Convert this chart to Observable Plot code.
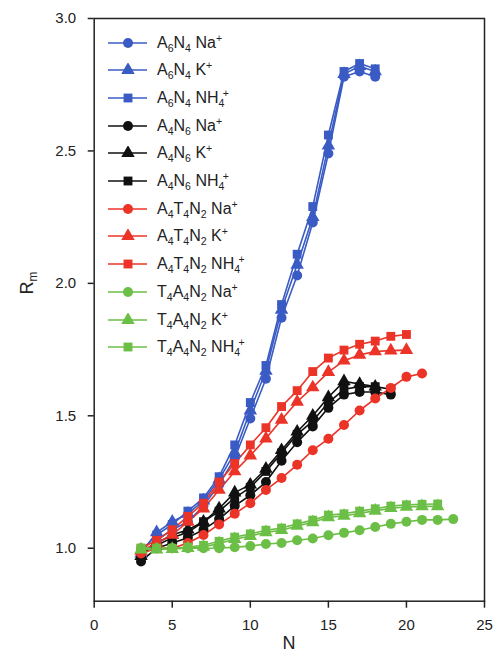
<!DOCTYPE html>
<html><head><meta charset="utf-8">
<script src="https://cdn.jsdelivr.net/npm/d3@7"></script>
<script src="https://cdn.jsdelivr.net/npm/@observablehq/plot@0.6"></script>
<style>
body{margin:0;background:#fff;font-family:"Liberation Sans",Arial,sans-serif;}
#wrap{position:relative;width:495px;height:652px;overflow:hidden;}
#legend{position:absolute;left:108px;top:28.8px;}
.row{height:27.7px;display:flex;align-items:center;font-size:16px;color:#222;white-space:nowrap;}
.row svg{margin-right:10px;flex:none;}
sub{font-size:0.66em;vertical-align:-0.35em;line-height:0;}
sup{font-size:0.66em;vertical-align:0.55em;line-height:0;}
.ylab{position:absolute;left:27px;top:283px;transform:translate(-50%,-50%) rotate(-90deg);font-size:18px;color:#222;white-space:nowrap;}
.xlab{position:absolute;left:289px;top:643px;transform:translate(-50%,-50%);font-size:18px;color:#222;}
</style></head><body><div id="wrap"></div>
<script>
// First N of every series
const N_START = 3;

// A6N4
const A6N4_Na  = [0.97,1.03,1.07,1.10,1.16,1.24,1.34,1.49,1.64,1.87,2.03,2.23,2.49,2.78,2.80,2.78];
const A6N4_K   = [0.98,1.06,1.10,1.13,1.18,1.26,1.36,1.52,1.67,1.90,2.07,2.25,2.52,2.79,2.82,2.80];
const A6N4_NH4 = [0.99,1.05,1.09,1.14,1.19,1.27,1.39,1.55,1.69,1.92,2.11,2.29,2.56,2.80,2.83,2.81];
// A4N6
const A4N6_Na  = [0.95,1.00,1.02,1.04,1.07,1.11,1.16,1.20,1.25,1.33,1.40,1.46,1.53,1.58,1.59,1.59,1.58];
const A4N6_K   = [0.97,1.02,1.05,1.07,1.10,1.15,1.21,1.24,1.30,1.37,1.44,1.50,1.57,1.63,1.62,1.61];
const A4N6_NH4 = [0.98,1.01,1.04,1.06,1.10,1.14,1.19,1.23,1.29,1.36,1.43,1.48,1.55,1.60,1.61,1.61,1.60];
// A4T4N2
const A4T4N2_Na  = [0.98,1.00,1.00,1.02,1.05,1.09,1.13,1.17,1.22,1.265,1.315,1.37,1.413,1.465,1.52,1.565,1.605,1.647,1.66];
const A4T4N2_K   = [0.99,1.02,1.05,1.10,1.15,1.22,1.29,1.35,1.414,1.485,1.553,1.607,1.665,1.708,1.73,1.743,1.746,1.748];
const A4T4N2_NH4 = [1.00,1.03,1.07,1.12,1.17,1.25,1.32,1.39,1.455,1.535,1.595,1.667,1.718,1.748,1.77,1.782,1.80,1.807];
// T4A4N2
const T4A4N2_Na  = [1.00,1.00,1.00,1.00,1.00,1.00,1.004,1.008,1.016,1.02,1.03,1.037,1.049,1.058,1.068,1.08,1.092,1.10,1.107,1.107,1.11];
const T4A4N2_K   = [0.995,0.995,0.997,1.00,1.005,1.018,1.034,1.046,1.06,1.068,1.084,1.098,1.117,1.122,1.132,1.141,1.151,1.156,1.158,1.158];
const T4A4N2_NH4 = [1.00,1.00,1.00,1.004,1.011,1.026,1.042,1.054,1.068,1.076,1.092,1.106,1.125,1.13,1.14,1.149,1.159,1.164,1.166,1.167];

const families = ["A6N4","A4N6","A4T4N2","T4A4N2"];
const familyLabels = ["A<sub>6</sub>N<sub>4</sub>","A<sub>4</sub>N<sub>6</sub>","A<sub>4</sub>T<sub>4</sub>N<sub>2</sub>","T<sub>4</sub>A<sub>4</sub>N<sub>2</sub>"];
const familyColors = ["#3a5bc4","#111111","#ec3327","#6cbf46"];
const ions = ["Na","K","NH4"];
const ionLabels = ["Na<sup>+</sup>","K<sup>+</sup>","NH<sub>4</sub><sup style='margin-left:-0.15em'>+</sup>"];
const ionSymbols = ["circle","triangle","square"];

const xTicks = [0,5,10,15,20,25];
const yTicks = [1.0,1.5,2.0,2.5,3.0];

const seriesValues = {
  A6N4:{Na:A6N4_Na,K:A6N4_K,NH4:A6N4_NH4},
  A4N6:{Na:A4N6_Na,K:A4N6_K,NH4:A4N6_NH4},
  A4T4N2:{Na:A4T4N2_Na,K:A4T4N2_K,NH4:A4T4N2_NH4},
  T4A4N2:{Na:T4A4N2_Na,K:T4A4N2_K,NH4:T4A4N2_NH4}
};

const data = [];
for (const f of families) for (const ion of ions) {
  seriesValues[f][ion].forEach((v,i)=>data.push({N:N_START+i,R:v,family:f,ion,series:f+"_"+ion}));
}

const R = 5;
const chart = Plot.plot({
  width:495, height:652,
  marginLeft:93.7, marginRight:11, marginTop:18, marginBottom:51.3,
  style:{fontFamily:"Liberation Sans, Arial, sans-serif", fontSize:"15px", color:"#222", background:"#fff"},
  x:{domain:[0,25], ticks:xTicks, tickFormat:d=>String(d), label:null},
  y:{domain:[0.8,3.0], ticks:yTicks, tickFormat:d3.format(".1f"), label:null},
  color:{domain:families, range:familyColors},
  symbol:{domain:ions, range:ionSymbols},
  marks:[
    Plot.line(data,{x:"N",y:"R",z:"series",stroke:"family",strokeWidth:1.6}),
    Plot.dot(data,{x:"N",y:"R",fill:"family",symbol:"ion",r:R,stroke:"none"}),
    Plot.axisX({ticks:xTicks,tickSize:7,tickPadding:11,strokeWidth:1.5,tickFormat:d=>String(d),label:null}),
    Plot.axisY({ticks:yTicks,tickSize:6,tickPadding:12,strokeWidth:1.5,tickFormat:d3.format(".1f"),label:null}),
    Plot.frame({stroke:"#222",strokeWidth:1.5})
  ]
});
const wrap = document.getElementById("wrap");
wrap.appendChild(chart);

// Legend
const legend = document.createElement("div");
legend.id = "legend";
families.forEach((f,fi)=>ions.forEach((ion,ii)=>{
  const row = document.createElement("div");
  row.className = "row";
  const svg = d3.create("svg").attr("width",39).attr("height",14);
  svg.append("line").attr("x1",0).attr("x2",39).attr("y1",7).attr("y2",7)
     .attr("stroke",familyColors[fi]).attr("stroke-width",1.6);
  const sym = {circle:d3.symbolCircle,triangle:d3.symbolTriangle,square:d3.symbolSquare}[ionSymbols[ii]];
  svg.append("path").attr("transform","translate(20,7)")
     .attr("d",d3.symbol(sym, R*R*Math.PI)()).attr("fill",familyColors[fi]);
  row.appendChild(svg.node());
  const t = document.createElement("span");
  t.innerHTML = familyLabels[fi] + " " + ionLabels[ii];
  row.appendChild(t);
  legend.appendChild(row);
}));
wrap.appendChild(legend);

const yl = document.createElement("div"); yl.className="ylab"; yl.innerHTML="R<sub>m</sub>"; wrap.appendChild(yl);
const xl = document.createElement("div"); xl.className="xlab"; xl.textContent="N"; wrap.appendChild(xl);
</script>
</body></html>
